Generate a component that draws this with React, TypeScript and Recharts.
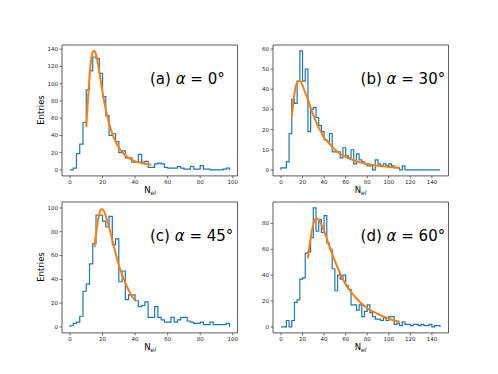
import { LineChart, Line, XAxis, YAxis, ReferenceArea } from 'recharts';

// histogram counts (bin width 2 for a/c, 2.5 for b/d, starting at 0)
const countsA = [0, 2, 19, 30, 55, 93, 115, 131, 129, 112, 85, 63, 40, 42, 33, 20, 22, 14, 14, 9, 9, 18, 9, 10, 3, 3, 7, 8, 7, 3, 2, 2, 2, 4, 2, 1, 1, 4, 1, 1, 5, 1, 1, 0, 0, 0, 0, 1, 2];
const countsB = [1, 1, 4, 18, 35, 33, 44, 59, 44, 50, 19, 30, 31, 26, 22, 19, 15, 14, 18, 9, 9, 9, 6, 11, 7, 6, 10, 3, 8, 5, 4, 3, 2, 2, 0, 5, 3, 2, 3, 2, 3, 2, 1, 1, 0, 2, 0, 0, 0, 0, 0, 0, 0, 0, 0, 0, 0, 0, 0];
const countsC = [1, 3, 4, 9, 30, 36, 53, 70, 94, 94, 89, 84, 93, 69, 74, 38, 47, 23, 27, 27, 22, 17, 18, 21, 8, 8, 17, 8, 6, 4, 4, 8, 4, 6, 8, 8, 5, 4, 3, 3, 4, 2, 2, 4, 2, 2, 2, 2, 3];
const countsD = [0, 0, 5, 0, 5, 19, 21, 37, 38, 57, 58, 69, 92, 74, 83, 73, 86, 65, 60, 45, 28, 40, 37, 40, 32, 29, 17, 17, 13, 17, 8, 12, 17, 11, 8, 6, 6, 5, 7, 5, 8, 8, 2, 3, 1, 4, 2, 2, 1, 2, 2, 1, 2, 1, 1, 2, 0, 1, 1];

// fitted curves
const fitAX = [10, 11, 12, 13, 14, 15, 16, 17, 18, 19, 20, 22, 24, 26, 28, 30, 32, 34, 36, 38, 40, 42, 44, 46, 48, 50];
const fitAY = [50, 80, 108, 128, 137, 138, 134, 125, 114, 102, 90, 70, 54, 42, 33, 26, 21, 17, 14, 12, 10, 9, 8, 7, 6.5, 6];
const fitBX = [10, 12, 14, 16, 18, 20, 22, 25, 28, 31, 34, 37, 40, 45, 50, 55, 60, 65, 70, 75, 80, 85, 90, 95, 100, 105, 110];
const fitBY = [26, 36, 42, 44, 44, 42, 39, 35, 30, 26, 22, 19, 16, 13, 10, 8, 6.5, 5.3, 4.3, 3.5, 3, 2.5, 2.1, 1.8, 1.5, 1.3, 1.1];
const fitCX = [15, 16, 17, 18, 19, 20, 21, 22, 24, 26, 28, 30, 32, 34, 36, 38, 40];
const fitCY = [67, 78, 88, 95, 99, 99, 97, 93, 84, 73, 62, 52, 44, 37, 31, 26, 22];
const fitDX = [25, 27, 29, 31, 33, 35, 37, 40, 43, 46, 50, 55, 60, 65, 70, 75, 80, 85, 90, 95, 100, 105, 110];
const fitDY = [53, 66, 76, 82, 84, 83, 80, 74, 67, 60, 51, 41, 33, 27, 22, 18, 14.5, 12, 10, 8, 6.5, 5, 4];

const ticks100 = [0, 20, 40, 60, 80, 100];
const ticks140 = [0, 20, 40, 60, 80, 100, 120, 140];

const FONT = '"DejaVu Sans", sans-serif';
const PW = 175.5;
const PH = 130.9;
const YW = 30;

function histPoints(counts: number[], width: number) {
  const pts = [{ x: 0, y: 0 }];
  counts.forEach((c, i) => pts.push({ x: i * width, y: c }));
  const end = counts.length * width;
  pts.push({ x: end, y: counts[counts.length - 1] });
  pts.push({ x: end, y: 0 });
  return pts;
}

function fitPoints(xs: number[], ys: number[]) {
  return xs.map((x, i) => ({ x, y: ys[i] }));
}

interface PanelProps {
  left: number;
  top: number;
  hist: { x: number; y: number }[];
  fit: { x: number; y: number }[];
  xDomain: [number, number];
  yDomain: [number, number];
  xTicks: number[];
  yTicks: number[];
  tag: string;
  angle: string;
  showEntries: boolean;
}

function Panel({ left, top, hist, fit, xDomain, yDomain, xTicks, yTicks, tag, angle, showEntries }: PanelProps) {
  const tickStyle = { fontSize: 5.5, fill: '#222', fontFamily: FONT };
  return (
    <>
      <div style={{ position: 'absolute', left: left - YW, top: top - 2 }}>
        <LineChart width={YW + PW + 4} height={PH + 22} margin={{ top: 2, right: 4, bottom: 0, left: 0 }}>
          <XAxis
            type="number"
            dataKey="x"
            domain={xDomain}
            ticks={xTicks}
            allowDataOverflow
            interval={0}
            axisLine={false}
            tickLine={{ stroke: '#333', strokeWidth: 0.7 }}
            tickSize={2.5}
            tickMargin={1.5}
            tick={tickStyle}
            height={20}
          />
          <YAxis
            type="number"
            domain={yDomain}
            ticks={yTicks}
            allowDataOverflow
            interval={0}
            axisLine={false}
            tickLine={{ stroke: '#333', strokeWidth: 0.7 }}
            tickSize={2.5}
            tickMargin={1.5}
            tick={tickStyle}
            width={YW}
          />
          <ReferenceArea
            x1={xDomain[0]}
            x2={xDomain[1]}
            y1={yDomain[0]}
            y2={yDomain[1]}
            fill="none"
            fillOpacity={0}
            stroke="#333"
            strokeWidth={0.8}
            ifOverflow="visible"
          />
          <Line data={hist} dataKey="y" type="stepAfter" stroke="#1f77b4" strokeWidth={1.2} dot={false} activeDot={false} isAnimationActive={false} />
          <Line data={fit} dataKey="y" type="monotone" stroke="#ff7f0e" strokeWidth={2} dot={false} activeDot={false} isAnimationActive={false} />
        </LineChart>
      </div>
      <div
        style={{
          position: 'absolute',
          left: left + PW * 0.5,
          top: top + PH * 0.26,
          transform: 'translateY(-50%)',
          fontFamily: FONT,
          fontSize: 15,
          lineHeight: 1,
          whiteSpace: 'nowrap',
          color: '#000',
        }}
      >
        {tag} <span style={{ fontStyle: 'italic' }}>α</span> = {angle}°
      </div>
      <div
        style={{
          position: 'absolute',
          left: left + PW / 2,
          top: top + PH + 15,
          transform: 'translate(-50%, -50%)',
          fontFamily: FONT,
          fontSize: 8.5,
          lineHeight: 1,
          whiteSpace: 'nowrap',
        }}
      >
        N<sub style={{ fontStyle: 'italic', fontSize: 6, verticalAlign: 'sub' }}>el</sub>
      </div>
      {showEntries && (
        <div
          style={{
            position: 'absolute',
            left: 40.5,
            top: top + PH / 2,
            transform: 'translate(-50%, -50%) rotate(-90deg)',
            fontFamily: FONT,
            fontSize: 8.5,
            lineHeight: 1,
            whiteSpace: 'nowrap',
          }}
        >
          Entries
        </div>
      )}
    </>
  );
}

export default function App() {
  return (
    <div style={{ position: 'absolute', left: 0, top: 0, width: 498, height: 374, background: '#fff', overflow: 'hidden' }}>
      <Panel
        left={62.25}
        top={44.9}
        hist={histPoints(countsA, 2)}
        fit={fitPoints(fitAX, fitAY)}
        xDomain={[-4.9, 102.9]}
        yDomain={[-6.9, 144.9]}
        xTicks={ticks100}
        yTicks={[0, 20, 40, 60, 80, 100, 120, 140]}
        tag="(a)"
        angle="0"
        showEntries
      />
      <Panel
        left={272.85}
        top={44.9}
        hist={histPoints(countsB, 2.5)}
        fit={fitPoints(fitBX, fitBY)}
        xDomain={[-7.4, 155.4]}
        yDomain={[-2.95, 61.95]}
        xTicks={ticks140}
        yTicks={[0, 10, 20, 30, 40, 50, 60]}
        tag="(b)"
        angle="30"
        showEntries={false}
      />
      <Panel
        left={62.25}
        top={202}
        hist={histPoints(countsC, 2)}
        fit={fitPoints(fitCX, fitCY)}
        xDomain={[-4.9, 102.9]}
        yDomain={[-5, 105]}
        xTicks={ticks100}
        yTicks={[0, 20, 40, 60, 80, 100]}
        tag="(c)"
        angle="45"
        showEntries
      />
      <Panel
        left={272.85}
        top={202}
        hist={histPoints(countsD, 2.5)}
        fit={fitPoints(fitDX, fitDY)}
        xDomain={[-7.4, 155.4]}
        yDomain={[-4.6, 96.6]}
        xTicks={ticks140}
        yTicks={[0, 20, 40, 60, 80]}
        tag="(d)"
        angle="60"
        showEntries={false}
      />
    </div>
  );
}
